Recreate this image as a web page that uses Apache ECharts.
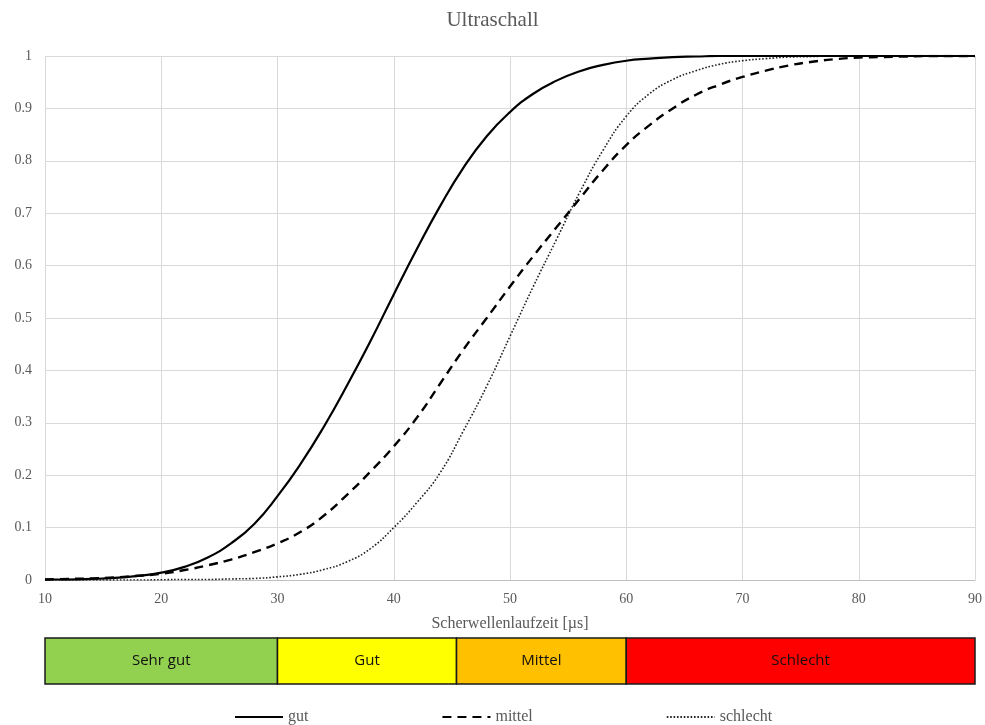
<!DOCTYPE html>
<html>
<head>
<meta charset="utf-8">
<script src="https://cdn.jsdelivr.net/npm/echarts@6/dist/echarts.min.js"></script>
<style>
  html, body { margin: 0; padding: 0; background: #fff; }
  #chart { width: 985px; height: 725px; }
</style>
</head>
<body>
<div id="chart"></div>
<script>
// Scherwellenlaufzeit in µs (sample positions of the curves)
const laufzeit = [10, 12, 14, 16, 18, 20, 22, 24, 26, 28, 30, 32, 34, 36, 38, 40, 42, 44, 46, 48, 50,
                  52, 54, 56, 58, 60, 62, 64, 66, 68, 70, 72, 74, 76, 78, 80, 82, 84, 86, 88, 90];

// cumulative share per class
const gut = [0.001, 0.001, 0.002, 0.004, 0.008, 0.014, 0.025, 0.043, 0.07, 0.107, 0.16, 0.222, 0.293, 0.372, 0.456, 0.545, 0.632, 0.714, 0.787, 0.847, 0.893,
             0.928, 0.953, 0.971, 0.983, 0.991, 0.995, 0.998, 0.999, 1, 1, 1, 1, 1, 1, 1, 1, 1, 1, 1, 1];
const mittel = [0.001, 0.002, 0.003, 0.005, 0.008, 0.012, 0.019, 0.028, 0.039, 0.053, 0.07, 0.092, 0.123, 0.163, 0.207, 0.255, 0.31, 0.375, 0.44, 0.5, 0.56,
                0.618, 0.673, 0.728, 0.782, 0.83, 0.868, 0.9, 0.926, 0.945, 0.96, 0.972, 0.982, 0.989, 0.994, 0.997, 0.998, 0.999, 1, 1, 1];
const schlecht = [0, 0, 0, 0, 0, 0.0005, 0.001, 0.001, 0.002, 0.003, 0.006, 0.011, 0.02, 0.035, 0.06, 0.1, 0.148, 0.205, 0.285, 0.37, 0.465,
                  0.56, 0.65, 0.74, 0.82, 0.885, 0.928, 0.955, 0.972, 0.984, 0.991, 0.995, 0.998, 0.999, 1, 1, 1, 1, 1, 1, 1];

const xTicks = [10, 20, 30, 40, 50, 60, 70, 80, 90];
const yTicks = ['0', '0.1', '0.2', '0.3', '0.4', '0.5', '0.6', '0.7', '0.8', '0.9', '1'];

// rating band below the axis
const bandNames = ['Sehr gut', 'Gut', 'Mittel', 'Schlecht'];
const bandStart = [10, 30, 45.4, 60];
const bandEnd = [30, 45.4, 60, 90];
const bandColors = ['#92D050', '#FFFF00', '#FFC000', '#FF0000'];

const pairs = ys => laufzeit.map((x, i) => [x, ys[i]]);

const serif = '"Liberation Serif", "DejaVu Serif", serif';
const grey = '#595959';
const bandFont = '"Open Sans", "Liberation Sans", sans-serif';

const chart = echarts.init(document.getElementById('chart'));
chart.setOption({
  animation: false,
  backgroundColor: '#fff',
  title: {
    text: 'Ultraschall',
    left: 'center',
    top: 5,
    textStyle: { fontFamily: serif, fontSize: 21, fontWeight: 'normal', color: grey }
  },
  legend: {
    left: 229,
    top: 704,
    itemWidth: 48,
    itemHeight: 14,
    itemGap: 133,
    // plain line keys, no marker on them
    itemStyle: { opacity: 0 },
    textStyle: { fontFamily: serif, fontSize: 16, color: grey },
    data: ['gut', 'mittel', 'schlecht']
  },
  grid: [
    { left: 45, right: 10, top: 56, height: 524 },
    { left: 45, right: 10, top: 638, height: 46 }
  ],
  xAxis: [
    {
      gridIndex: 0,
      type: 'value',
      min: xTicks[0],
      max: xTicks[xTicks.length - 1],
      interval: 10,
      name: 'Scherwellenlaufzeit [µs]',
      nameLocation: 'middle',
      nameGap: 36,
      nameTextStyle: { fontFamily: serif, fontSize: 16, color: grey },
      axisLine: { lineStyle: { color: '#bfbfbf', width: 1 } },
      axisTick: { show: false },
      axisLabel: { fontFamily: serif, fontSize: 14, color: grey, margin: 12 },
      splitLine: { show: true, lineStyle: { color: '#d9d9d9', width: 1 } }
    },
    {
      gridIndex: 1,
      type: 'value',
      min: 10,
      max: 90,
      show: false
    }
  ],
  yAxis: [
    {
      gridIndex: 0,
      type: 'value',
      min: 0,
      max: 1,
      interval: 0.1,
      axisLine: { show: false },
      axisTick: { show: false },
      axisLabel: {
        fontFamily: serif, fontSize: 14, color: grey, margin: 13,
        formatter: v => yTicks[Math.round(v * 10)]
      },
      splitLine: { show: true, lineStyle: { color: '#d9d9d9', width: 1 } }
    },
    {
      gridIndex: 1,
      type: 'value',
      min: 0,
      max: 1,
      show: false
    }
  ],
  series: [
    {
      name: 'gut',
      type: 'line',
      xAxisIndex: 0, yAxisIndex: 0,
      data: pairs(gut),
      smooth: 0.5,
      symbol: 'none',
      z: 5,
      lineStyle: { color: '#000', width: 2.2, type: 'solid' },
      itemStyle: { color: '#000' }
    },
    {
      name: 'mittel',
      type: 'line',
      xAxisIndex: 0, yAxisIndex: 0,
      data: pairs(mittel),
      smooth: 0.5,
      symbol: 'none',
      z: 4,
      lineStyle: { color: '#000', width: 2.4, type: [9, 6] },
      itemStyle: { color: '#000' }
    },
    {
      name: 'schlecht',
      type: 'line',
      xAxisIndex: 0, yAxisIndex: 0,
      data: pairs(schlecht),
      smooth: 0.5,
      symbol: 'none',
      z: 3,
      lineStyle: { color: '#222', width: 1.6, type: [1.6, 1.8] },
      itemStyle: { color: '#222' }
    },
    {
      name: 'Bewertung',
      type: 'custom',
      xAxisIndex: 1, yAxisIndex: 1,
      data: bandNames.map((n, i) => [bandStart[i], bandEnd[i], i]),
      renderItem: (params, api) => {
        const i = api.value(2);
        const p0 = api.coord([api.value(0), 1]);
        const p1 = api.coord([api.value(1), 0]);
        return {
          type: 'rect',
          shape: { x: p0[0], y: p0[1], width: p1[0] - p0[0], height: p1[1] - p0[1] },
          style: { fill: bandColors[i], stroke: '#1a1a1a', lineWidth: 1.5 },
          textContent: {
            style: { text: bandNames[i], fill: '#111', fontSize: 15, fontFamily: bandFont }
          },
          textConfig: { position: 'inside' }
        };
      },
      silent: true
    }
  ]
});
</script>
</body>
</html>
